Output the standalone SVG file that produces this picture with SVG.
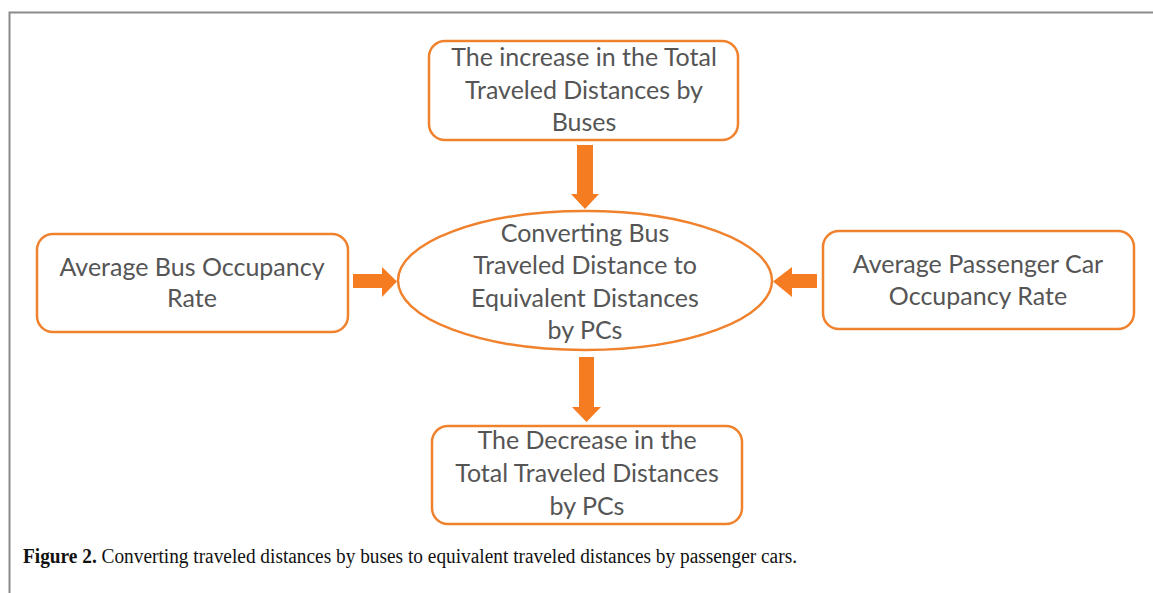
<svg xmlns="http://www.w3.org/2000/svg" width="1153" height="593" viewBox="0 0 1153 593">
  <style>
    .box { fill: #ffffff; stroke: #f0822e; stroke-width: 2.5; }
    .label { font-family: Lato, "Open Sans", sans-serif; font-size: 25px; fill: #555555; text-anchor: middle; }
    .arrow { fill: #f67c22; }
    .caption { font-family: "Liberation Serif", serif; font-size: 20px; fill: #111111; }
  </style>

  <rect x="0" y="0" width="1153" height="593" fill="#ffffff"/>
  <!-- figure frame -->
  <path d="M9.5,593 V12.5 H1153" fill="none" stroke="#8a8a8a" stroke-width="2"/>

  <g id="node-bus-increase">
    <rect class="box" x="429" y="41" width="309" height="99" rx="16"/>
    <text class="label" x="584" y="66">The increase in the Total</text>
    <text class="label" x="584" y="99">Traveled Distances by</text>
    <text class="label" x="584" y="131">Buses</text>
  </g>

  <g id="node-bus-occupancy">
    <rect class="box" x="37" y="234" width="311" height="98" rx="16"/>
    <text class="label" x="192" y="276">Average Bus Occupancy</text>
    <text class="label" x="192" y="307">Rate</text>
  </g>

  <g id="node-converting">
    <ellipse class="box" cx="585" cy="280.5" rx="187" ry="69.5"/>
    <text class="label" x="585" y="242">Converting Bus</text>
    <text class="label" x="585" y="274">Traveled Distance to</text>
    <text class="label" x="585" y="307">Equivalent Distances</text>
    <text class="label" x="585" y="339">by PCs</text>
  </g>

  <g id="node-pc-occupancy">
    <rect class="box" x="823" y="231" width="311" height="98" rx="16"/>
    <text class="label" x="978" y="273">Average Passenger Car</text>
    <text class="label" x="978" y="305">Occupancy Rate</text>
  </g>

  <g id="node-pc-decrease">
    <rect class="box" x="432" y="426" width="310" height="98" rx="16"/>
    <text class="label" x="587" y="449">The Decrease in the</text>
    <text class="label" x="587" y="482">Total Traveled Distances</text>
    <text class="label" x="587" y="515">by PCs</text>
  </g>

  <g id="connectors">
    <!-- top box to ellipse -->
    <polygon class="arrow" points="577,145 593,145 593,194 599,194 585,209 571,194 577,194"/>
    <!-- left box to ellipse -->
    <polygon class="arrow" points="353,274 382,274 382,267 397,281.5 382,297 382,288 353,288"/>
    <!-- right box to ellipse -->
    <polygon class="arrow" points="817,274 792,274 792,267 773,281.5 792,297 792,288 817,288"/>
    <!-- ellipse to bottom box -->
    <polygon class="arrow" points="579,357 594,357 594,407 601,407 586.5,422 572,407 579,407"/>
  </g>

  <text class="caption" x="23" y="563" textLength="774" lengthAdjust="spacingAndGlyphs"><tspan font-weight="bold">Figure 2.</tspan> Converting traveled distances by buses to equivalent traveled distances by passenger cars.</text>
</svg>
